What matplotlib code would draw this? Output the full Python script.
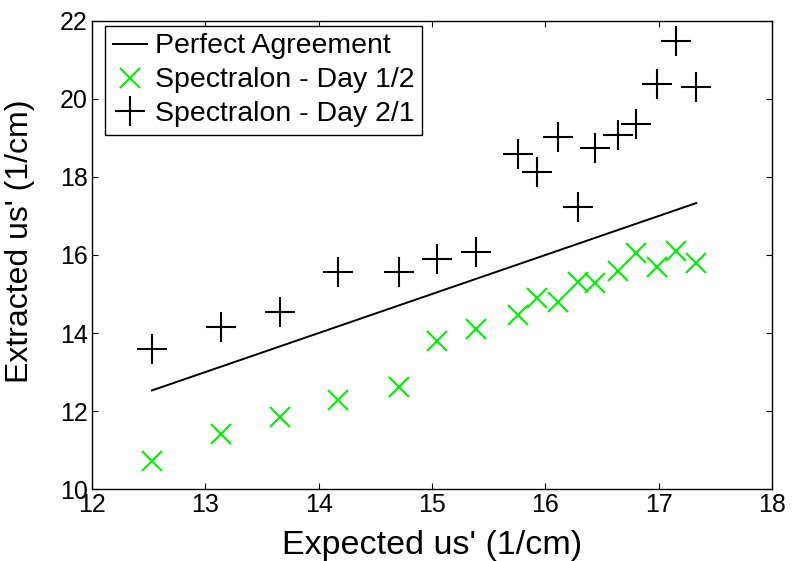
import numpy as np
import matplotlib.pyplot as plt

plt.rcParams['font.family'] = ['Liberation Sans', 'DejaVu Sans']

# expected reduced scattering values (x axis)
expected = [12.53, 13.14, 13.66, 14.17, 14.71, 15.04, 15.39, 15.76, 15.93,
            16.11, 16.29, 16.44, 16.64, 16.80, 16.98, 17.15, 17.33]

# extracted values, day 1/2 and day 2/1
day12 = [10.72, 11.42, 11.84, 12.28, 12.62, 13.80, 14.10, 14.46, 14.91,
         14.80, 15.32, 15.27, 15.60, 16.04, 15.70, 16.11, 15.79]
day21 = [13.58, 14.16, 14.53, 15.57, 15.57, 15.90, 16.08, 18.59, 18.12,
         19.03, 17.24, 18.74, 19.08, 19.36, 20.38, 21.47, 20.30]

x_ticks = [12, 13, 14, 15, 16, 17, 18]
y_ticks = [10, 12, 14, 16, 18, 20, 22]

fig = plt.figure(figsize=(7.92, 5.61), dpi=100)
ax = fig.add_axes([0.116, 0.128, 0.859, 0.835])

ax.plot(expected, expected, color='black', lw=1.4, label='Perfect Agreement')
ax.plot(expected, day12, ls='none', marker='x', ms=15, mew=1.5,
        color='#00ee00', label='Spectralon - Day 1/2')
ax.plot(expected, day21, ls='none', marker='+', ms=22, mew=1.5,
        color='black', label='Spectralon - Day 2/1')

ax.set_xlim(12, 18)
ax.set_ylim(10, 22)
ax.set_xticks(x_ticks)
ax.set_yticks(y_ticks)
ax.tick_params(direction='in', length=4, width=0.8, top=True, right=True,
               labelsize=18, pad=3)
for s in ax.spines.values():
    s.set_linewidth(1.0)

ax.set_xlabel("Expected us' (1/cm)", fontsize=24.5, labelpad=9)
ax.set_ylabel("Extracted us' (1/cm)", fontsize=23)
ax.yaxis.set_label_coords(-0.083, 0.53)

leg = ax.legend(loc='upper left', bbox_to_anchor=(0.02, 0.988),
                fontsize=20.5, handlelength=1.2, handletextpad=0.3,
                borderaxespad=0, borderpad=0.25, labelspacing=0.28,
                fancybox=False, framealpha=1)
leg.get_frame().set_edgecolor('black')
leg.get_frame().set_linewidth(1.0)

fig.savefig('out.png', dpi=100)
